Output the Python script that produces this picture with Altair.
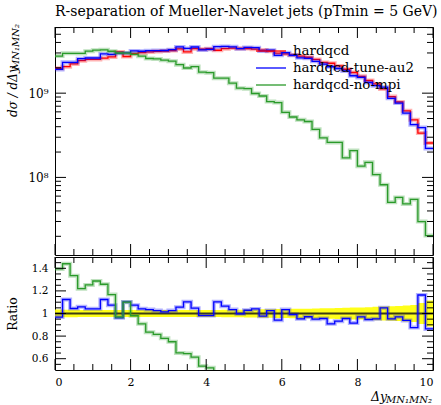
import altair as alt
import pandas as pd

# ---------------- data ----------------
TITLE = "R-separation of Mueller-Navelet jets (pTmin = 5 GeV)"
SERIES = ["hardqcd", "hardqcd-tune-au2", "hardqcd-no-mpi"]
COLORS = ["#ff0000", "#0000ff", "#2a9a2a"]

BIN_EDGES = [0.0, 0.2, 0.4, 0.6, 0.8, 1.0, 1.2, 1.4, 1.6, 1.8,
             2.0, 2.2, 2.4, 2.6, 2.8, 3.0, 3.2, 3.4, 3.6, 3.8,
             4.0, 4.2, 4.4, 4.6, 4.8, 5.0, 5.2, 5.4, 5.6, 5.8,
             6.0, 6.2, 6.4, 6.6, 6.8, 7.0, 7.2, 7.4, 7.6, 7.8,
             8.0, 8.2, 8.4, 8.6, 8.8, 9.0, 9.2, 9.4, 9.6, 9.8, 10.0]

UNIT = 1e9  # values below are in units of 10^9

HARDQCD = [1.977, 2.065, 2.223, 2.427, 2.512, 2.512, 2.600, 2.692, 3.090, 2.723,
           2.951, 3.020, 3.090, 3.126, 3.162, 3.199, 3.350, 3.083, 3.373, 3.319,
           3.373, 3.230, 3.373, 3.428, 3.388, 3.388, 3.327, 3.251, 3.148, 2.985,
           2.924, 2.844, 2.754, 2.667, 2.512, 2.317, 2.265, 2.104, 1.923, 1.758,
           1.585, 1.413, 1.288, 1.122, 0.912, 0.785, 0.617, 0.483, 0.336, 0.256]

TUNE_AU2 = [1.914, 2.321, 2.321, 2.570, 2.615, 2.615, 2.922, 2.891, 2.973, 3.003,
            3.169, 3.144, 3.198, 3.207, 3.209, 3.282, 3.538, 3.401, 3.532, 3.259,
            3.312, 3.563, 3.592, 3.548, 3.378, 3.486, 3.463, 3.173, 3.230, 2.809,
            3.026, 2.818, 2.625, 2.590, 2.386, 2.215, 2.059, 1.961, 1.838, 1.609,
            1.539, 1.338, 1.227, 1.178, 0.869, 0.762, 0.579, 0.423, 0.391, 0.221]

NO_MPI = [2.756, 2.974, 2.968, 2.961, 3.148, 3.235, 3.273, 3.144, 2.997, 2.995,
          2.892, 2.745, 2.580, 2.548, 2.466, 2.399, 2.180, 1.990, 2.070, 1.776,
          1.750, 1.507, 1.507, 1.313, 1.146, 1.130, 0.991, 0.925, 0.794, 0.774,
          0.592, 0.521, 0.483, 0.461, 0.372, 0.295, 0.260, 0.260, 0.171, 0.208,
          0.136, 0.151, 0.108, 0.0819, 0.0506, 0.0579, 0.0484, 0.0548, 0.0299, 0.0204]

# relative uncertainty of the reference (yellow band in the ratio panel)
REF_REL_ERR = [0.036, 0.034, 0.033, 0.032, 0.032, 0.031, 0.031, 0.031, 0.030, 0.030,
               0.030, 0.030, 0.030, 0.030, 0.030, 0.031, 0.031, 0.031, 0.031, 0.032,
               0.032, 0.032, 0.033, 0.033, 0.034, 0.035, 0.036, 0.037, 0.038, 0.039,
               0.040, 0.041, 0.042, 0.043, 0.045, 0.046, 0.047, 0.049, 0.050, 0.052,
               0.054, 0.056, 0.059, 0.061, 0.064, 0.067, 0.071, 0.075, 0.092, 0.115]

X_MAJOR = [0, 2, 4, 6, 8, 10]
X_MINOR = [0.5, 1, 1.5, 2.5, 3, 3.5, 4.5, 5, 5.5, 6.5, 7, 7.5, 8.5, 9, 9.5]
Y_MAIN_MAJOR = [1e8, 1e9]
Y_MAIN_MINOR = [2e7, 3e7, 4e7, 5e7, 6e7, 7e7, 8e7, 9e7,
                2e8, 3e8, 4e8, 5e8, 6e8, 7e8, 8e8, 9e8,
                2e9, 3e9, 4e9, 5e9, 6e9]
Y_RATIO_MAJOR = [0.6, 0.8, 1.0, 1.2, 1.4]
Y_RATIO_MINOR = [0.55, 0.65, 0.7, 0.75, 0.85, 0.9, 0.95, 1.05, 1.1, 1.15,
                 1.25, 1.3, 1.35, 1.45]

# ---------------- layout / style ----------------
W, H1, H2 = 378, 228, 113
PAD_L, PAD_R, PAD_T, PAD_B = 55, 8, 27, 37
FONT = "DejaVu Serif"
RATIO_LO, RATIO_HI = 0.5, 1.5
XS = alt.Scale(domain=[0, 10], nice=False, zero=False)
YS_MAIN = alt.Scale(type="log", domain=[1.2e7, 6.1e9], nice=False)
YS_RATIO = alt.Scale(domain=[RATIO_LO, RATIO_HI], nice=False, zero=False)

Y_MAIN_AXIS = alt.Axis(values=Y_MAIN_MAJOR, title=None, grid=False, domain=False,
                       ticks=False, labelPadding=7, labelFont=FONT, labelFontSize=12,
                       labelColor="black",
                       labelExpr="datum.value >= 1e9 ? '10⁹' : '10⁸'")
Y_RATIO_AXIS = alt.Axis(values=Y_RATIO_MAJOR, title=None, grid=False, domain=False,
                        ticks=False, labelPadding=7, labelFont=FONT, labelFontSize=10.5,
                        labelColor="black",
                        labelExpr="datum.value == 1 ? '1' : format(datum.value, '.1f')")
X_RATIO_AXIS = alt.Axis(values=X_MAJOR, title=None, grid=False, domain=False,
                        ticks=False, labelPadding=6, labelFont=FONT, labelFontSize=11,
                        labelColor="black", format="d")


def step_rows(vals, scale=1.0, lo=None):
    v = [x * scale for x in vals]
    if lo is not None:  # values far below the panel are only drawn to just past its edge
        v = [max(x, lo) for x in v]
    rows = [{"x": BIN_EDGES[i], "y": v[i]} for i in range(len(v))]
    rows.append({"x": BIN_EDGES[-1], "y": v[-1]})
    return pd.DataFrame(rows)


def tick_layers(ys, yaxis, ymaj, ymin, h, xaxis):
    layers = []
    for vals, L in ((X_MAJOR, 11), (X_MINOR, 6)):
        base = alt.Chart(pd.DataFrame({"v": vals})).mark_rule(color="black", strokeWidth=1)
        xe = alt.X("v:Q", scale=XS, axis=xaxis)
        layers.append(base.encode(x=xe, y=alt.value(0), y2=alt.value(L)))
        layers.append(base.encode(x=xe, y=alt.value(h - L), y2=alt.value(h)))
    for vals, L in ((ymaj, 11), (ymin, 6)):
        base = alt.Chart(pd.DataFrame({"w": vals})).mark_rule(color="black", strokeWidth=1)
        ye = alt.Y("w:Q", scale=ys, axis=yaxis)
        layers.append(base.encode(y=ye, x=alt.value(0), x2=alt.value(L)))
        layers.append(base.encode(y=ye, x=alt.value(W - L), x2=alt.value(W)))
    return layers


def text_layer(txt, x, y, size, align="left", angle=0, style="normal", baseline="middle"):
    return alt.Chart(pd.DataFrame({"t": [txt]})).mark_text(
        align=align, baseline=baseline, angle=angle, font=FONT, fontSize=size,
        fontStyle=style, color="black").encode(text="t:N", x=alt.value(x), y=alt.value(y))


def frame_anchor(y):
    # invisible full-width line fixing the outer bounds of the figure
    return alt.Chart(pd.DataFrame({"a": [0]})).mark_rule(color="white", opacity=0, strokeWidth=1).encode(
        x=alt.value(-PAD_L + 0.5), x2=alt.value(W + PAD_R - 0.5), y=alt.value(y))


# ---------------- main panel ----------------
main_layers = [frame_anchor(-PAD_T + 0.5)]
all_vals = [HARDQCD, TUNE_AU2, NO_MPI]
for vals, col in zip(all_vals, COLORS):
    df = step_rows(vals, UNIT)
    enc = dict(x=alt.X("x:Q", scale=XS, axis=None),
               y=alt.Y("y:Q", scale=YS_MAIN, axis=Y_MAIN_AXIS))
    main_layers.append(alt.Chart(df).mark_line(interpolate="step-after", color=col,
                                               strokeWidth=4, opacity=0.3, clip=True).encode(**enc))
    main_layers.append(alt.Chart(df).mark_line(interpolate="step-after", color=col,
                                               strokeWidth=1.3, clip=True).encode(**enc))

main_layers += tick_layers(YS_MAIN, Y_MAIN_AXIS, Y_MAIN_MAJOR, Y_MAIN_MINOR, H1, None)

# legend (inside, top right)
for i, (name, col) in enumerate(zip(SERIES, COLORS)):
    ly = 24 + 17 * i
    main_layers.append(alt.Chart(pd.DataFrame({"n": [name]})).mark_rule(color=col, strokeWidth=1.3)
                       .encode(x=alt.value(201), x2=alt.value(231), y=alt.value(ly)))
    main_layers.append(text_layer(name, 238, ly, 13.4))

# titles
main_layers.append(text_layer(TITLE, 0, -15, 14))
main_layers.append(text_layer("dσ / dΔy", -42, 90, 12, angle=270, style="italic"))
main_layers.append(text_layer("MN₁MN₂", -39, 43, 10, angle=270, style="italic"))

main = alt.layer(*main_layers).properties(width=W, height=H1)

# ---------------- ratio panel ----------------
ratio_layers = [frame_anchor(H2 + PAD_B - 0.5)]
band = pd.DataFrame([{"x": BIN_EDGES[i], "lo": 1 - REF_REL_ERR[i], "hi": 1 + REF_REL_ERR[i]}
                     for i in range(len(REF_REL_ERR))]
                    + [{"x": BIN_EDGES[-1], "lo": 1 - REF_REL_ERR[-1], "hi": 1 + REF_REL_ERR[-1]}])
ratio_layers.append(alt.Chart(band).mark_area(interpolate="step-after", color="#ffff00", opacity=0.9)
                    .encode(x=alt.X("x:Q", scale=XS, axis=X_RATIO_AXIS),
                            y=alt.Y("lo:Q", scale=YS_RATIO, axis=Y_RATIO_AXIS), y2="hi:Q"))
ratio_layers.append(alt.Chart(pd.DataFrame({"one": [1.0]})).mark_rule(color="#3c3c14", strokeWidth=2.2)
                    .encode(y=alt.Y("one:Q", scale=YS_RATIO, axis=Y_RATIO_AXIS)))

for vals, col in zip(all_vals[1:], COLORS[1:]):
    r = [vals[i] / HARDQCD[i] for i in range(len(vals))]
    df = step_rows(r, lo=RATIO_LO - 0.03)
    enc = dict(x=alt.X("x:Q", scale=XS, axis=X_RATIO_AXIS),
               y=alt.Y("y:Q", scale=YS_RATIO, axis=Y_RATIO_AXIS))
    ratio_layers.append(alt.Chart(df).mark_line(interpolate="step-after", color=col,
                                                strokeWidth=4, opacity=0.3, clip=True).encode(**enc))
    ratio_layers.append(alt.Chart(df).mark_line(interpolate="step-after", color=col,
                                                strokeWidth=1.3, clip=True).encode(**enc))

ratio_layers += tick_layers(YS_RATIO, Y_RATIO_AXIS, Y_RATIO_MAJOR, Y_RATIO_MINOR, H2, X_RATIO_AXIS)
ratio_layers.append(text_layer("Ratio", -42, 57, 12.5, align="center", angle=270))
ratio_layers.append(text_layer("MN₁MN₂", 377, 143, 10, align="right", style="italic"))
ratio_layers.append(text_layer("Δy", 332, 140, 12.5, align="right", style="italic"))

ratio = alt.layer(*ratio_layers).properties(width=W, height=H2)

chart = (alt.vconcat(main, ratio, spacing=0)
         .properties(padding=0, background="white")
         .configure_view(stroke="black", strokeWidth=1))

chart.save("out.html", embed_options={"renderer": "svg", "actions": False})
